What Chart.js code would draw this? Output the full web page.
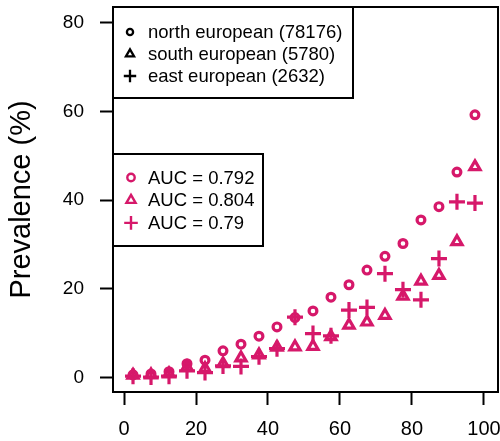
<!DOCTYPE html>
<html><head><meta charset="utf-8">
<script src="https://cdn.jsdelivr.net/npm/chart.js@4/dist/chart.umd.min.js"></script>
<style>html,body{margin:0;padding:0;background:#fff;overflow:hidden;}</style>
</head><body>
<canvas id="c" width="500" height="441" style="display:block;width:500px;height:441px"></canvas>
<script>
// ---- data ----
const xMid = [2.5, 7.5, 12.5, 17.5, 22.5, 27.5, 32.5, 37.5, 42.5, 47.5, 52.5, 57.5, 62.5, 67.5, 72.5, 77.5, 82.5, 87.5, 92.5, 97.5];
const northPrev = [0.6, 0.8, 1.3, 3.1, 3.9, 6.0, 7.5, 9.3, 11.4, 13.5, 15.0, 18.1, 20.9, 24.2, 27.3, 30.2, 35.5, 38.5, 46.3, 59.2];
const southPrev = [0.5, 0.6, 0.8, 2.3, 2.0, 3.1, 4.4, 5.1, 6.8, 6.9, 7.0, 9.2, 11.8, 12.5, 14.0, 18.3, 21.7, 23.0, 30.6, 47.5];
const eastPrev  = [0.3, 0.1, 0.3, 1.5, 1.1, 2.6, 2.5, 4.7, 6.5, 13.6, 9.9, 9.4, 15.2, 15.8, 23.4, 19.8, 17.5, 26.8, 39.6, 39.3];
const groupNames = ['north european', 'south european', 'east european'];
const groupCounts = [78176, 5780, 2632];
const aucValues = ['0.792', '0.804', '0.79'];
const xTicks = [0, 20, 40, 60, 80, 100];
const yTicks = [0, 20, 40, 60, 80];
const yTitle = 'Prevalence (%)';

// ---- styles ----
const MAG = '#D6186A';
const FONT = '"Liberation Sans", Arial, Helvetica, sans-serif';
const styles = ['circle', 'triangle', 'cross'];
const dataRadius = [3.9, 5.9, 8];
const series = [northPrev, southPrev, eastPrev];

const datasets = series.map((arr, i) => ({
  label: groupNames[i],
  data: xMid.map((x, j) => ({x: x, y: arr[j]})),
  pointStyle: styles[i],
  pointRadius: dataRadius[i],
  pointHoverRadius: dataRadius[i],
  pointBorderWidth: 3.2,
  pointBorderColor: MAG,
  pointBackgroundColor: 'rgba(0,0,0,0)',
  showLine: false,
  clip: false
}));

function marker(ctx, style, x, y, r, lw, color) {
  ctx.save();
  ctx.strokeStyle = color; ctx.lineWidth = lw; ctx.lineCap = 'butt'; ctx.lineJoin = 'miter';
  ctx.beginPath();
  if (style === 'circle') {
    ctx.arc(x, y, r, 0, Math.PI * 2);
  } else if (style === 'triangle') {
    ctx.moveTo(x, y - r);
    ctx.lineTo(x + r * Math.sin(Math.PI * 2 / 3), y - r * Math.cos(Math.PI * 2 / 3));
    ctx.lineTo(x + r * Math.sin(Math.PI * 4 / 3), y - r * Math.cos(Math.PI * 4 / 3));
    ctx.closePath();
  } else {
    ctx.moveTo(x - r, y); ctx.lineTo(x + r, y);
    ctx.moveTo(x, y - r); ctx.lineTo(x, y + r);
  }
  ctx.stroke();
  ctx.restore();
}

const legendSizes = [3.4, 5.0, 6.5];

const frameAndLegends = {
  id: 'frameAndLegends',
  afterDraw(chart) {
    const ctx = chart.ctx;
    const a = chart.chartArea;
    ctx.save();
    // plot frame
    ctx.lineWidth = 2; ctx.strokeStyle = '#000';
    ctx.strokeRect(a.left, a.top, a.right - a.left, a.bottom - a.top);

    function box(x1, y1, w, h) {
      ctx.fillStyle = '#fff';
      ctx.fillRect(x1, y1, w, h);
      ctx.lineWidth = 2; ctx.strokeStyle = '#000';
      ctx.strokeRect(x1, y1, w, h);
    }
    ctx.font = '18.5px ' + FONT;
    ctx.textBaseline = 'middle';
    ctx.textAlign = 'left';

    // legend 1: groups
    const l1x = a.left, l1y = a.top;
    box(l1x, l1y, 240, 91);
    for (let i = 0; i < 3; i++) {
      const yy = l1y + 25 + i * 22;
      marker(ctx, styles[i], l1x + 17, yy, legendSizes[i] - 0.3, 2.3, '#000');
      ctx.fillStyle = '#000';
      ctx.fillText(groupNames[i] + ' (' + groupCounts[i] + ')', l1x + 35, yy + 1);
    }
    // legend 2: AUC
    const l2x = a.left, l2y = a.top + 147;
    box(l2x, l2y, 150, 92);
    for (let i = 0; i < 3; i++) {
      const yy = l2y + 23.5 + i * 22.7;
      marker(ctx, styles[i], l2x + 18, yy, legendSizes[i] + 0.3, 2.4, MAG);
      ctx.fillStyle = '#000';
      ctx.fillText('AUC = ' + aucValues[i], l2x + 35, yy + 1);
    }
    ctx.restore();
  }
};

new Chart(document.getElementById('c'), {
  type: 'scatter',
  data: { datasets: datasets },
  options: {
    responsive: false,
    devicePixelRatio: 1,
    animation: false,
    layout: { autoPadding: false, padding: { left: 0, top: 7, right: 2, bottom: 0 } },
    plugins: { legend: { display: false }, tooltip: { enabled: false }, title: { display: false } },
    scales: {
      x: {
        type: 'linear', min: -3.06, max: 103.9,
        afterBuildTicks: s => { s.ticks = xTicks.map(v => ({value: v})); },
        afterFit: s => { s.height = 49; s.paddingLeft = 0; s.paddingRight = 0; },
        grid: { display: true, drawOnChartArea: false, drawTicks: true, tickLength: 13, tickWidth: 2, tickColor: '#000' },
        border: { display: false },
        ticks: { font: { size: 20, family: FONT }, color: '#000', padding: 12, maxRotation: 0, autoSkip: false }
      },
      y: {
        type: 'linear', min: -3.27, max: 83.5,
        afterBuildTicks: s => { s.ticks = yTicks.map(v => ({value: v})); },
        afterFit: s => { s.width = 113; s.paddingTop = 0; s.paddingBottom = 0; },
        grid: { display: true, drawOnChartArea: false, drawTicks: true, tickLength: 13, tickWidth: 2, tickColor: '#000' },
        border: { display: false },
        ticks: { font: { size: 19, family: FONT }, color: '#000', padding: 16, autoSkip: false },
        title: { display: true, text: yTitle, font: { size: 29, family: FONT }, color: '#000', padding: { top: 5, bottom: 0 } }
      }
    }
  },
  plugins: [frameAndLegends]
});
</script>
</body></html>
